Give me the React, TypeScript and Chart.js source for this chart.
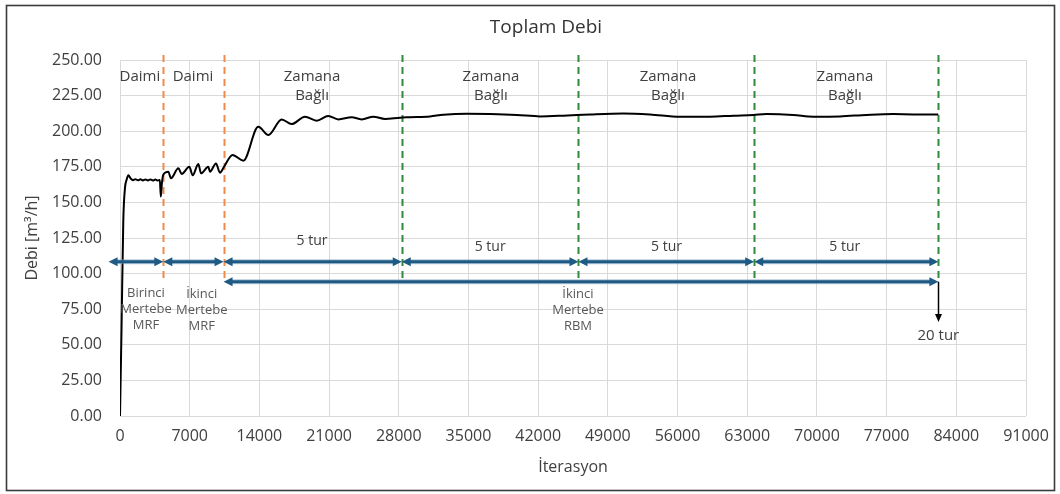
import React, { useEffect, useRef } from "react";
import { Chart, registerables } from "chart.js";

Chart.register(...registerables);

// ---- Data ----
const ITERATIONS = [
  0, 150, 330, 500, 670, 840, 1070, 1300, 1550, 1800, 2050, 2300, 2550, 2800, 3050, 3300, 3550, 3800,
  4000, 4100, 4200, 4350, 4850, 5120, 5860, 6200, 6960, 7300, 7870, 8140, 8870, 9040, 9640, 10040,
  10450, 11300, 12390, 13890, 14900, 16240, 17240, 18580, 19750, 20920, 21930, 23270, 24270, 25440,
  26620, 28120, 29130, 31140, 32470, 34820, 37160, 39840, 42190, 44530, 47210, 50560, 53230, 56250,
  59260, 61600, 63610, 64950, 67620, 69640, 72310, 74990, 77670, 79680, 82190,
];
const FLOW = [
  0, 60, 137, 160, 166, 169, 166.8, 165.6, 166.3, 165.5, 166.2, 165.4, 166.1, 165.4, 166.1, 165.4, 166.0, 165.4,
  165.8, 154, 163, 169.5, 171.6, 167, 174, 170, 175, 169, 177, 170.4, 175, 171.6, 177.4, 170.8,
  175, 183.3, 179.3, 203.1, 197.3, 208.3, 205, 210.2, 207.4, 210.7, 208.3, 209.8, 208.3, 210.2,
  208.6, 209.5, 209.8, 210.4, 211.5, 212.2, 212, 211.4, 210.4, 210.9, 211.8, 212.5, 211.8, 210.2,
  210.2, 210.9, 211.4, 212, 211.4, 210.2, 210.4, 211.4, 212, 211.8, 211.8,
];

const X_MIN = 0;
const X_MAX = 91000;
const X_STEP = 7000;
const Y_MIN = 0;
const Y_MAX = 250;
const Y_STEP = 25;

const TITLE = "Toplam Debi";
const X_TITLE = "İterasyon";
const Y_TITLE = "Debi [m³/h]";

// Phase boundaries (iteration values)
const STEADY_BOUNDARIES = [4350, 10400];
const TRANSIENT_BOUNDARIES = [28300, 46050, 63700, 82200];
const BOUNDARY_Y_RANGE = [94, 253.5];

// Top phase labels
const TOP_LABEL_X = [2000, 7330, 19290, 37260, 55040, 72810];
const TOP_LABEL_TEXT = [["Daimi"], ["Daimi"], ["Zamana", "Bağlı"], ["Zamana", "Bağlı"], ["Zamana", "Bağlı"], ["Zamana", "Bağlı"]];
const TOP_LABEL_Y = 238.2;

// Upper arrow row segments
const ROW1_Y = 108.4;
const ROW1_FROM = [-1150, 4350, 10400, 28300, 46050, 63700];
const ROW1_TO = [4350, 10400, 28300, 46050, 63700, 82200];
// Lower arrow
const ROW2_Y = 94.3;
const ROW2_FROM = 10400;
const ROW2_TO = 82200;

// "5 tur" labels
const TUR_X = [19290, 37180, 54900, 72800];
const TUR_Y = [122.9, 118.7, 118.7, 118.7];
const TUR_TEXT = "5 tur";

// Lower method labels
const METHOD_X = [2610, 8210, 46000];
const METHOD_Y = [86.4, 85.2, 85.2];
const METHOD_TEXT = [["Birinci", "Mertebe", "MRF"], ["İkinci", "Mertebe", "MRF"], ["İkinci", "Mertebe", "RBM"]];

// Total-rounds arrow
const TOTAL_ARROW_X = 82200;
const TOTAL_ARROW_Y_END = 66;
const TOTAL_LABEL_Y = 56.2;
const TOTAL_LABEL = "20 tur";

const FONT = "'Open Sans', 'Liberation Sans', sans-serif";
const TEXT_DARK = "#333333";
const TEXT_MID = "#404040";

function arrowHead(ctx: CanvasRenderingContext2D, x: number, y: number, dx: number, dy: number, len: number, half: number) {
  const px = -dy, py = dx;
  ctx.beginPath();
  ctx.moveTo(x, y);
  ctx.lineTo(x - dx * len + px * half, y - dy * len + py * half);
  ctx.lineTo(x - dx * len - px * half, y - dy * len - py * half);
  ctx.closePath();
  ctx.fill();
}

function hArrow(ctx: CanvasRenderingContext2D, x1: number, x2: number, yy: number) {
  const len = 9, half = 4.5;
  ctx.save();
  ctx.strokeStyle = "rgba(120,160,190,0.55)";
  ctx.lineWidth = 5;
  ctx.beginPath();
  ctx.moveTo(x1 + len - 1, yy);
  ctx.lineTo(x2 - len + 1, yy);
  ctx.stroke();
  ctx.strokeStyle = "#1f5a84";
  ctx.fillStyle = "#1f5a84";
  ctx.lineWidth = 3;
  ctx.beginPath();
  ctx.moveTo(x1 + len - 1, yy);
  ctx.lineTo(x2 - len + 1, yy);
  ctx.stroke();
  arrowHead(ctx, x2, yy, 1, 0, len, half);
  arrowHead(ctx, x1, yy, -1, 0, len, half);
  ctx.restore();
}

const annotationPlugin = {
  id: "phaseAnnotations",
  beforeDatasetsDraw(chart: any) {
    const { ctx, scales } = chart;
    const xs = scales.x, ys = scales.y;
    ctx.save();
    ctx.lineWidth = 2;
    ctx.setLineDash([7, 5]);
    const yTop = ys.getPixelForValue(BOUNDARY_Y_RANGE[1]);
    const yBot = ys.getPixelForValue(BOUNDARY_Y_RANGE[0]);
    ctx.strokeStyle = "#f08a4b";
    STEADY_BOUNDARIES.forEach((v) => {
      const px = Math.round(xs.getPixelForValue(v)) + 0.5;
      ctx.beginPath();
      ctx.moveTo(px, yTop);
      ctx.lineTo(px, yBot);
      ctx.stroke();
    });
    ctx.strokeStyle = "#2f8a3c";
    TRANSIENT_BOUNDARIES.forEach((v) => {
      const px = Math.round(xs.getPixelForValue(v)) + 0.5;
      ctx.beginPath();
      ctx.moveTo(px, yTop);
      ctx.lineTo(px, yBot);
      ctx.stroke();
    });
    ctx.restore();
  },
  afterDatasetsDraw(chart: any) {
    const { ctx, scales } = chart;
    const xs = scales.x, ys = scales.y;
    ctx.save();
    ROW1_FROM.forEach((f, i) => {
      hArrow(ctx, xs.getPixelForValue(f), xs.getPixelForValue(ROW1_TO[i]), ys.getPixelForValue(ROW1_Y));
    });
    hArrow(ctx, xs.getPixelForValue(ROW2_FROM), xs.getPixelForValue(ROW2_TO), ys.getPixelForValue(ROW2_Y));

    const ax = Math.round(xs.getPixelForValue(TOTAL_ARROW_X)) + 0.5;
    const ay1 = ys.getPixelForValue(ROW2_Y);
    const ay2 = ys.getPixelForValue(TOTAL_ARROW_Y_END);
    ctx.strokeStyle = "#000";
    ctx.fillStyle = "#000";
    ctx.lineWidth = 1.5;
    ctx.beginPath();
    ctx.moveTo(ax, ay1);
    ctx.lineTo(ax, ay2 - 6);
    ctx.stroke();
    arrowHead(ctx, ax, ay2, 0, 1, 8, 3.5);

    ctx.textAlign = "center";
    ctx.textBaseline = "middle";
    ctx.fillStyle = TEXT_MID;
    ctx.font = `15px ${FONT}`;
    TOP_LABEL_X.forEach((v, i) => {
      const px = xs.getPixelForValue(v);
      const py = ys.getPixelForValue(TOP_LABEL_Y);
      TOP_LABEL_TEXT[i].forEach((t, j) => ctx.fillText(t, px, py + j * 19));
    });
    ctx.font = `14px ${FONT}`;
    TUR_X.forEach((v, i) => {
      ctx.fillText(TUR_TEXT, xs.getPixelForValue(v), ys.getPixelForValue(TUR_Y[i]));
    });
    ctx.fillStyle = "#595959";
    ctx.font = `13px ${FONT}`;
    METHOD_X.forEach((v, i) => {
      const px = xs.getPixelForValue(v);
      const py = ys.getPixelForValue(METHOD_Y[i]);
      METHOD_TEXT[i].forEach((t, j) => ctx.fillText(t, px, py + j * 16));
    });
    ctx.fillStyle = TEXT_MID;
    ctx.font = `15px ${FONT}`;
    ctx.fillText(TOTAL_LABEL, xs.getPixelForValue(TOTAL_ARROW_X), ys.getPixelForValue(TOTAL_LABEL_Y));
    ctx.restore();
  },
  afterDraw(chart: any) {
    const { ctx } = chart;
    ctx.save();
    ctx.fillStyle = TEXT_DARK;
    ctx.font = `19px ${FONT}`;
    ctx.textAlign = "center";
    ctx.textBaseline = "middle";
    ctx.fillText(TITLE, 546, 28);
    ctx.strokeStyle = "#3a3a3a";
    ctx.lineWidth = 1.6;
    ctx.strokeRect(6.5, 5.5, 1048, 485);
    ctx.restore();
  },
};

export default function App() {
  const canvasRef = useRef<HTMLCanvasElement | null>(null);

  useEffect(() => {
    if (!canvasRef.current) return;
    const points = ITERATIONS.map((x, i) => ({ x, y: FLOW[i] }));
    const chart = new Chart(canvasRef.current, {
      type: "line",
      data: {
        datasets: [
          {
            label: TITLE,
            data: points,
            borderColor: "#000000",
            borderWidth: 2,
            pointRadius: 0,
            cubicInterpolationMode: "monotone",
            fill: false,
          },
        ],
      },
      options: {
        animation: false,
        responsive: false,
        layout: { padding: { top: 60, left: 0, right: 34, bottom: 0 } },
        plugins: {
          legend: { display: false },
          title: { display: false },
          tooltip: { enabled: false },
        },
        scales: {
          x: {
            type: "linear",
            min: X_MIN,
            max: X_MAX,
            border: { display: false },
            grid: { color: "#d9d9d9", lineWidth: 1, drawTicks: false },
            ticks: {
              stepSize: X_STEP,
              color: TEXT_MID,
              font: { family: FONT, size: 16 },
              padding: 11,
              maxRotation: 0,
              autoSkip: false,
              callback: (v: any) => String(v),
            },
            title: {
              display: true,
              text: X_TITLE,
              color: TEXT_MID,
              font: { family: FONT, size: 16 },
              padding: { top: 0, bottom: 17 },
            },
            afterFit: (s: any) => {
              s.height = 78;
            },
          },
          y: {
            type: "linear",
            min: Y_MIN,
            max: Y_MAX,
            border: { display: false },
            grid: { color: "#d9d9d9", lineWidth: 1, drawTicks: false },
            ticks: {
              stepSize: Y_STEP,
              color: TEXT_MID,
              font: { family: FONT, size: 16 },
              padding: 18,
              callback: (v: any) => Number(v).toFixed(2),
            },
            title: {
              display: true,
              text: Y_TITLE,
              color: TEXT_MID,
              font: { family: FONT, size: 16 },
              padding: { top: 23, bottom: 0 },
            },
            afterFit: (s: any) => {
              s.width = 120;
            },
          },
        },
      },
      plugins: [annotationPlugin],
    } as any);
    return () => chart.destroy();
  }, []);

  return (
    <div style={{ position: "fixed", left: 0, top: 0, width: 1060, height: 494, background: "#fff" }}>
      <canvas ref={canvasRef} width={1060} height={494} style={{ display: "block" }} />
    </div>
  );
}
